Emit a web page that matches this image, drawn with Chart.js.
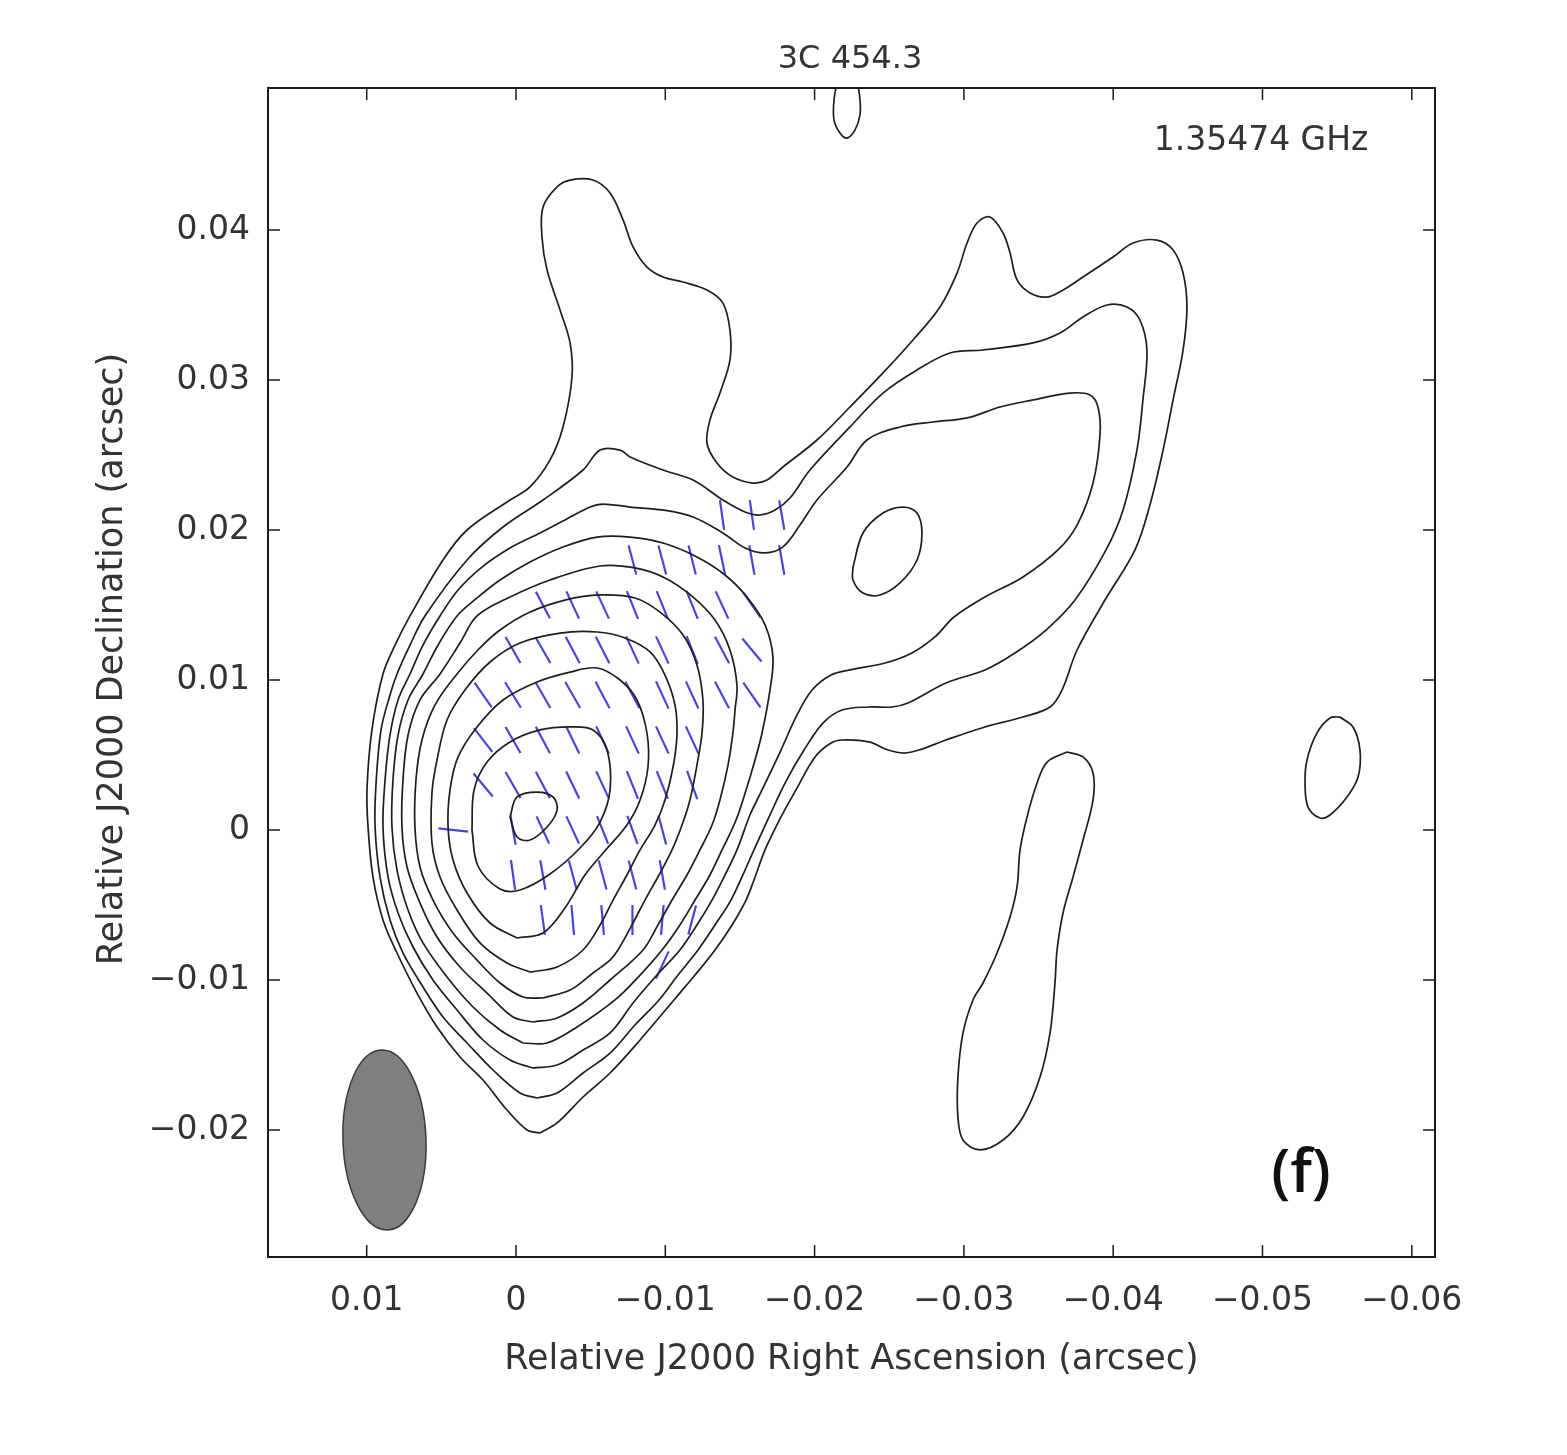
<!DOCTYPE html>
<html><head><meta charset="utf-8">
<script src="https://cdn.jsdelivr.net/npm/chart.js@4.4.1/dist/chart.umd.min.js"></script>
<style>html,body{margin:0;padding:0;background:#fff;}#wrap{position:absolute;left:0;top:0;width:1567px;height:1455px;}</style>
</head><body><div id="wrap"><canvas id="c" width="1567" height="1455"></canvas></div>
<script>
// ---------- DATA (offsets in milliarcsec: x = relative RA, y = relative Dec) ----------
const chartTitle = '3C 454.3';
const freqLabel = '1.35474 GHz';
const panelLabel = '(f)';
const xAxisTitle = 'Relative J2000 Right Ascension (arcsec)';
const yAxisTitle = 'Relative J2000 Declination (arcsec)';

const xTickValues = [0.01, 0, -0.01, -0.02, -0.03, -0.04, -0.05, -0.06];
const xTickLabels = ['0.01', '0', '\u22120.01', '\u22120.02', '\u22120.03', '\u22120.04', '\u22120.05', '\u22120.06'];
const yTickValues = [0.04, 0.03, 0.02, 0.01, 0, -0.01, -0.02];
const yTickLabels = ['0.04', '0.03', '0.02', '0.01', '0', '\u22120.01', '\u22120.02'];

// contour level 1 (lowest)
const contourL1Main = [[-1.61,-20.20],[-0.74,-20.00],[0.60,-18.67],[2.21,-16.67],[3.75,-15.13],[5.29,-13.13],[6.63,-10.87],[7.97,-8.20],[8.91,-6.00],[9.58,-3.13],[9.91,0.20],[9.98,2.73],[9.65,6.67],[8.91,10.40],[8.10,12.33],[7.10,14.27],[4.89,18.00],[3.28,20.00],[0.40,22.00],[-0.94,22.87],[-2.28,24.67],[-3.15,26.87],[-3.75,30.20],[-3.62,32.47],[-2.95,34.67],[-2.08,37.33],[-1.74,39.53],[-1.81,41.53],[-2.75,42.87],[-3.62,43.33],[-5.16,43.33],[-6.30,42.47],[-7.17,40.67],[-7.84,38.87],[-8.77,37.53],[-9.85,36.87],[-11.19,36.53],[-12.79,36.00],[-13.86,35.13],[-14.33,33.33],[-14.33,31.33],[-13.66,29.13],[-12.99,27.33],[-12.79,25.80],[-13.46,24.47],[-14.53,23.53],[-15.87,23.13],[-16.81,23.33],[-17.88,24.20],[-20.16,26.00],[-22.37,28.20],[-24.58,30.47],[-26.59,32.67],[-28.40,34.87],[-29.54,37.13],[-30.21,39.13],[-30.88,40.47],[-31.75,40.87],[-32.62,39.80],[-33.09,38.47],[-33.56,36.67],[-34.43,35.80],[-35.57,35.53],[-36.64,36.00],[-37.98,36.87],[-39.99,38.20],[-41.33,39.13],[-42.93,39.33],[-44.01,38.67],[-44.68,37.13],[-44.94,34.87],[-44.68,32.00],[-44.01,28.67],[-43.34,25.33],[-42.46,21.67],[-41.46,18.67],[-39.45,15.33],[-37.58,12.00],[-36.57,9.33],[-35.77,8.20],[-33.96,7.53],[-31.41,6.87],[-28.80,6.00],[-26.99,5.33],[-25.99,5.13],[-24.92,5.33],[-23.64,5.87],[-21.84,6.00],[-21.10,5.80],[-20.03,4.87],[-18.75,2.67],[-17.75,0.87],[-16.68,-1.33],[-15.94,-3.33],[-15.41,-4.67],[-14.47,-6.33],[-13.33,-8.00],[-11.99,-9.67],[-10.58,-11.33],[-8.31,-14.00],[-6.30,-16.20],[-4.49,-17.80],[-2.75,-19.53]];
const contourL1IslandLong = [[-36.91,5.20],[-37.98,4.87],[-38.65,3.80],[-38.65,2.00],[-37.98,-0.67],[-37.31,-3.13],[-36.64,-5.53],[-36.24,-8.00],[-36.10,-10.20],[-35.77,-13.53],[-35.10,-16.47],[-33.96,-19.13],[-32.62,-20.67],[-31.08,-21.33],[-29.94,-20.67],[-29.60,-19.13],[-29.60,-16.47],[-29.94,-13.53],[-30.61,-11.33],[-31.28,-10.20],[-32.22,-8.20],[-33.09,-5.80],[-33.56,-3.80],[-33.76,-1.33],[-34.23,0.87],[-34.90,3.13],[-35.57,4.53]];
const contourL1IslandWest = [[-55.19,7.53],[-56.06,6.87],[-56.53,5.33],[-56.40,3.53],[-55.66,2.20],[-54.52,1.00],[-53.85,0.80],[-53.05,1.53],[-52.85,3.13],[-52.98,4.67],[-53.65,6.47],[-54.52,7.47]];
const contourL1TopEdge = [[-21.57,50.20],[-21.30,48.67],[-21.30,47.33],[-21.70,46.47],[-22.17,46.13],[-22.71,46.67],[-23.04,47.67],[-23.04,48.67],[-22.84,50.20]];
const contourL2 = [[-1.41,-17.87],[-0.27,-17.53],[1.54,-16.00],[3.28,-14.20],[4.89,-12.47],[6.23,-10.47],[7.57,-8.20],[8.44,-6.00],[9.11,-3.13],[9.44,0.20],[9.38,3.00],[9.04,6.67],[8.44,9.00],[7.97,10.40],[7.10,12.33],[6.10,14.27],[3.28,18.00],[0.87,20.20],[-1.81,22.00],[-4.49,24.00],[-5.63,25.33],[-6.97,25.33],[-7.64,24.87],[-9.85,24.00],[-11.86,23.33],[-13.86,22.00],[-15.34,21.20],[-16.34,21.00],[-17.35,21.33],[-18.35,22.13],[-19.69,24.00],[-22.37,26.87],[-24.58,29.13],[-26.86,30.67],[-29.07,31.80],[-31.28,32.00],[-34.63,32.47],[-36.44,33.13],[-37.98,34.20],[-39.58,35.00],[-40.92,34.87],[-41.79,34.00],[-42.26,32.00],[-41.99,28.67],[-41.59,25.33],[-40.66,21.33],[-39.52,18.67],[-37.44,15.33],[-35.50,13.33],[-33.42,11.80],[-31.41,10.67],[-28.80,9.80],[-26.26,8.47],[-25.18,8.20],[-23.64,8.20],[-21.84,8.00],[-20.56,7.13],[-19.29,5.33],[-18.02,3.13],[-16.95,0.87],[-15.94,-1.33],[-15.34,-2.67],[-14.40,-4.67],[-13.33,-6.33],[-12.19,-8.00],[-10.85,-9.67],[-9.58,-11.33],[-7.97,-13.00],[-6.30,-14.87],[-4.49,-16.20],[-2.75,-17.53]];
const contourL3 = [[-1.14,-15.87],[0.40,-15.33],[2.21,-14.00],[3.95,-12.00],[5.56,-10.00],[6.90,-7.80],[7.90,-5.53],[8.57,-3.13],[8.91,0.20],[8.77,3.33],[8.44,6.33],[7.90,8.67],[7.10,10.40],[6.23,12.33],[5.09,14.27],[3.88,16.00],[2.28,17.53],[0.40,18.80],[-1.61,19.80],[-3.28,20.67],[-4.96,21.53],[-5.83,21.73],[-7.64,21.53],[-9.85,21.33],[-11.86,20.87],[-13.86,19.80],[-15.34,18.80],[-16.68,18.47],[-17.88,18.87],[-19.02,20.33],[-20.16,22.00],[-22.17,24.20],[-23.51,26.00],[-25.72,26.87],[-27.93,27.20],[-30.21,27.47],[-32.42,28.20],[-34.63,28.67],[-37.11,29.13],[-38.45,29.00],[-38.98,28.20],[-39.12,26.40],[-38.65,23.13],[-37.58,20.33],[-36.30,18.67],[-33.96,16.87],[-31.41,15.53],[-29.34,14.20],[-28.06,12.87],[-26.52,11.80],[-24.72,11.13],[-22.37,10.67],[-21.10,10.33],[-19.83,9.33],[-18.75,7.53],[-17.75,5.33],[-16.48,2.67],[-15.67,1.00],[-14.80,-1.33],[-14.00,-3.00],[-13.13,-4.67],[-12.12,-6.33],[-10.98,-8.00],[-9.44,-9.67],[-7.84,-11.53],[-6.30,-13.53],[-4.49,-14.67],[-2.75,-15.67]];
const contourL4 = [[-0.47,-14.20],[1.07,-13.33],[2.88,-11.80],[4.62,-9.80],[6.23,-7.53],[7.23,-5.33],[7.97,-2.67],[8.31,0.20],[8.24,3.33],[7.90,6.33],[7.23,8.67],[6.23,10.40],[5.22,12.33],[3.95,14.27],[2.61,15.47],[1.07,16.67],[-0.94,17.87],[-3.15,18.87],[-5.43,19.53],[-7.64,19.53],[-9.85,19.13],[-12.12,18.20],[-14.00,17.00],[-15.47,15.53],[-16.68,13.67],[-17.21,11.53],[-17.01,9.33],[-16.48,6.47],[-16.01,4.67],[-15.41,2.67],[-14.74,0.67],[-13.80,-1.33],[-12.99,-3.00],[-11.99,-4.67],[-10.98,-6.33],[-9.78,-8.00],[-8.31,-9.67],[-6.63,-11.33],[-4.09,-13.13],[-2.08,-14.20]];
const contourL4Island = [[-22.57,17.53],[-23.24,19.80],[-24.58,21.13],[-25.92,21.53],[-26.86,21.13],[-27.19,19.80],[-26.86,18.00],[-25.72,16.47],[-24.38,15.67],[-23.24,15.80],[-22.57,16.67]];
const contourL5 = [[-1.14,-12.80],[0.20,-12.47],[1.94,-10.87],[3.75,-9.13],[5.29,-7.13],[6.43,-4.87],[7.30,-2.47],[7.64,0.20],[7.57,3.33],[7.23,6.33],[6.43,8.67],[5.09,10.40],[3.75,12.47],[2.61,14.27],[0.40,15.53],[-2.28,16.67],[-5.63,17.60],[-7.97,17.47],[-9.98,16.80],[-11.86,15.53],[-13.33,14.00],[-14.33,12.00],[-14.80,9.67],[-14.67,8.00],[-14.53,6.47],[-14.20,4.33],[-13.66,2.00],[-13.13,0.33],[-12.32,-1.33],[-11.45,-3.00],[-10.45,-4.67],[-9.51,-6.33],[-8.51,-8.00],[-6.30,-10.00],[-4.49,-11.53],[-2.75,-12.53]];
const contourL6 = [[-1.81,-11.20],[-0.47,-11.13],[1.07,-10.20],[2.61,-8.67],[4.22,-6.87],[5.56,-4.67],[6.43,-2.47],[6.77,0.20],[6.70,3.33],[6.30,6.00],[5.43,8.33],[3.95,10.40],[2.55,12.00],[1.07,13.33],[-0.94,14.53],[-3.28,15.33],[-5.63,15.67],[-7.97,15.47],[-9.65,14.53],[-11.19,13.00],[-12.12,11.00],[-12.52,8.67],[-12.46,6.47],[-12.12,4.33],[-11.65,2.00],[-11.12,0.33],[-10.45,-1.33],[-9.58,-3.00],[-8.64,-4.67],[-7.77,-6.33],[-6.83,-8.00],[-6.30,-8.67],[-5.16,-9.53],[-3.62,-10.67]];
const contourL7 = [[-0.94,-9.47],[0.60,-8.87],[2.41,-7.53],[3.95,-5.33],[5.09,-3.13],[5.63,-0.87],[5.63,2.47],[5.29,4.67],[4.62,7.33],[3.42,9.33],[1.74,11.20],[-0.27,12.47],[-2.95,13.13],[-5.43,13.20],[-7.30,12.80],[-8.98,11.87],[-9.98,10.33],[-10.65,8.33],[-10.78,6.33],[-10.52,4.20],[-9.98,2.00],[-9.31,0.33],[-8.31,-1.33],[-7.43,-3.00],[-6.50,-4.67],[-5.63,-6.33],[-4.49,-8.00],[-2.75,-9.13]];
const contourL8 = [[-0.07,-7.20],[1.74,-6.20],[3.28,-4.20],[4.22,-2.00],[4.55,0.20],[4.42,2.67],[3.88,4.87],[2.61,6.87],[0.87,8.67],[-1.41,9.87],[-3.62,10.53],[-5.43,10.80],[-6.97,10.00],[-8.10,8.67],[-8.77,6.47],[-8.84,4.20],[-8.31,2.00],[-7.43,0.33],[-5.89,-1.47],[-4.62,-3.00],[-3.28,-5.20],[-1.81,-6.87]];
const contourL9 = [[2.95,0.00],[2.81,2.67],[1.94,4.53],[0.40,5.87],[-1.61,6.67],[-3.62,6.87],[-5.16,6.67],[-6.10,5.33],[-6.30,2.67],[-5.63,0.53],[-4.29,-1.20],[-2.28,-2.93],[-0.27,-4.00],[1.07,-3.93],[2.55,-2.40]];
const contourL10 = [[0.40,0.87],[-0.07,2.20],[-1.41,2.53],[-2.48,2.20],[-2.75,1.33],[-2.08,0.20],[-0.94,-0.67],[-0.07,-0.47]];

// polarization vectors: rows of declination, RA positions and EVPA (deg, N through E)
const polRowDec = [21, 18, 15, 12, 9, 6, 3, 0, -3, -6, -9];
const polRowRA = [
  [-13.8, -15.8, -17.8],
  [-7.8, -9.8, -11.8, -13.8, -15.8, -17.8],
  [-1.8, -3.8, -5.8, -7.8, -9.8, -11.8, -13.8, -15.8],
  [0.2, -1.8, -3.8, -5.8, -7.8, -9.8, -11.8, -13.8, -15.8],
  [2.2, 0.2, -1.8, -3.8, -5.8, -7.8, -9.8, -11.8, -13.8, -15.8],
  [2.2, 0.2, -1.8, -3.8, -5.8, -7.8, -9.8, -11.8],
  [2.2, 0.2, -1.8, -3.8, -5.8, -7.8, -9.8, -11.8],
  [4.2, 0.2, -1.8, -3.8, -5.8, -7.8, -9.8],
  [0.2, -1.8, -3.8, -5.8, -7.8, -9.8],
  [-1.8, -3.8, -5.8, -7.8, -9.8, -11.8],
  [-9.8]
];
const polEVPA = [
  [8, 8, 10],
  [15, 15, 14, 12, 10, 10],
  [28, 25, 25, 22, 22, 22, 25, 35],
  [30, 30, 28, 27, 25, 25, 22, 28, 40],
  [35, 32, 30, 30, 28, 28, 25, 25, 28, 35],
  [38, 30, 28, 26, 25, 25, 25, 25],
  [40, 30, 28, 26, 25, 22, 22, 20],
  [84, 10, 25, 25, 22, 20, 15],
  [8, 10, 15, 15, 15, 10],
  [8, 5, 5, 0, -5, -15],
  [-25]
];

// restoring beam
const beamCenterMas = [8.81, -20.67];
const beamMajorMas = 12.0;
const beamMinorMas = 5.56;
const beamPADeg = 2;

// ---------- STYLE ----------
const VEC_LEN_MAS = 2.0;
const TEXT_COLOR = '#333333';
const FONT = '"DejaVu Sans", "Liberation Sans", sans-serif';

const closedContours = [contourL1Main, contourL1IslandLong, contourL1IslandWest, contourL2, contourL3, contourL4, contourL4Island, contourL5, contourL6, contourL7, contourL8, contourL9, contourL10];
const openContours = [contourL1TopEdge];

function toPts(arr, close) {
  const pts = arr.map(p => ({x: p[0] / 1000, y: p[1] / 1000}));
  if (close) pts.push({x: arr[0][0] / 1000, y: arr[0][1] / 1000});
  return pts;
}

const datasets = [];
closedContours.forEach(c => datasets.push({data: toPts(c, true), showLine: true, borderColor: '#1e1e1e', borderWidth: 1.7, pointRadius: 0, tension: 0.35, fill: false}));
openContours.forEach(c => datasets.push({data: toPts(c, false), showLine: true, borderColor: '#1e1e1e', borderWidth: 1.7, pointRadius: 0, tension: 0.35, fill: false}));

const vecPts = [];
polRowDec.forEach((dec, r) => {
  polRowRA[r].forEach((ra, k) => {
    const th = polEVPA[r][k] * Math.PI / 180;
    const h = VEC_LEN_MAS / 2;
    vecPts.push({x: (ra + h * Math.sin(th)) / 1000, y: (dec + h * Math.cos(th)) / 1000});
    vecPts.push({x: (ra - h * Math.sin(th)) / 1000, y: (dec - h * Math.cos(th)) / 1000});
    vecPts.push({x: ra / 1000, y: null});
  });
});
datasets.push({data: vecPts, showLine: true, spanGaps: false, borderColor: 'rgba(50,50,215,0.9)', borderWidth: 2.2, pointRadius: 0, tension: 0});

const decoPlugin = {
  id: 'deco',
  beforeDraw(chart) {
    const ctx = chart.ctx;
    ctx.save(); ctx.fillStyle = '#fff'; ctx.fillRect(0, 0, chart.width, chart.height); ctx.restore();
  },
  beforeDatasetsDraw(chart) {
    const {ctx, scales: {x, y}} = chart;
    const cx = x.getPixelForValue(beamCenterMas[0] / 1000), cy = y.getPixelForValue(beamCenterMas[1] / 1000);
    const rx = Math.abs(x.getPixelForValue((beamCenterMas[0] + beamMinorMas / 2) / 1000) - cx);
    const ry = Math.abs(y.getPixelForValue((beamCenterMas[1] + beamMajorMas / 2) / 1000) - cy);
    ctx.save();
    ctx.beginPath();
    ctx.ellipse(cx, cy, rx, ry, -beamPADeg * Math.PI / 180, 0, 2 * Math.PI);
    ctx.fillStyle = '#7f7f7f'; ctx.fill();
    ctx.lineWidth = 1.5; ctx.strokeStyle = '#3a3a3a'; ctx.stroke();
    ctx.restore();
  },
  afterDraw(chart) {
    const {ctx, chartArea: a, scales: {x, y}} = chart;
    ctx.save();
    ctx.strokeStyle = '#1a1a1a'; ctx.lineWidth = 2;
    ctx.strokeRect(a.left, a.top, a.right - a.left, a.bottom - a.top);
    ctx.lineWidth = 1.5;
    const TL = 12;
    ctx.beginPath();
    xTickValues.forEach(v => {
      const px = x.getPixelForValue(v);
      ctx.moveTo(px, a.bottom); ctx.lineTo(px, a.bottom - TL);
      ctx.moveTo(px, a.top); ctx.lineTo(px, a.top + TL);
    });
    yTickValues.forEach(v => {
      const py = y.getPixelForValue(v);
      ctx.moveTo(a.left, py); ctx.lineTo(a.left + TL, py);
      ctx.moveTo(a.right, py); ctx.lineTo(a.right - TL, py);
    });
    ctx.stroke();
    ctx.fillStyle = TEXT_COLOR;
    ctx.textAlign = 'center'; ctx.textBaseline = 'middle';
    ctx.font = '32px ' + FONT;
    ctx.fillText(chartTitle, 850, 60);
    ctx.font = '33px ' + FONT;
    ctx.fillText(freqLabel, 1261, 141);
    ctx.font = '35px ' + FONT;
    ctx.fillText(xAxisTitle, (a.left + a.right) / 2, 1360);
    ctx.save();
    ctx.translate(113, 659);
    ctx.rotate(-Math.PI / 2);
    ctx.fillText(yAxisTitle, 0, 0);
    ctx.restore();
    ctx.fillStyle = '#111';
    ctx.font = '600 60px "Open Sans", "Noto Sans", sans-serif';
    ctx.fillText(panelLabel, 1301, 1175);
    ctx.restore();
  }
};

function labelFor(vals, labels, v) {
  const i = vals.findIndex(t => Math.abs(t - v) < 1e-9);
  return i >= 0 ? labels[i] : '';
}

new Chart(document.getElementById('c'), {
  type: 'scatter',
  data: {datasets},
  options: {
    responsive: false,
    animation: false,
    events: [],
    devicePixelRatio: 1,
    layout: {padding: {left: 0, right: 132, top: 88, bottom: 0}},
    plugins: {legend: {display: false}, tooltip: {enabled: false}, title: {display: false}},
    scales: {
      x: {
        type: 'linear', position: 'bottom', reverse: true,
        min: -0.061554, max: 0.016611,
        grid: {display: false, drawTicks: false},
        border: {display: false},
        afterBuildTicks: s => { s.ticks = xTickValues.slice().sort((a, b) => a - b).map(v => ({value: v})); },
        afterFit: s => { s.height = 198; },
        ticks: {autoSkip: false, maxRotation: 0, padding: 25, color: TEXT_COLOR, font: {family: FONT, size: 33},
          callback: v => labelFor(xTickValues, xTickLabels, v)}
      },
      y: {
        type: 'linear', position: 'left',
        min: -0.028467, max: 0.049467,
        grid: {display: false, drawTicks: false},
        border: {display: false},
        afterBuildTicks: s => { s.ticks = yTickValues.slice().sort((a, b) => a - b).map(v => ({value: v})); },
        afterFit: s => { s.width = 268; },
        ticks: {autoSkip: false, padding: 18, color: TEXT_COLOR, font: {family: FONT, size: 33},
          callback: v => labelFor(yTickValues, yTickLabels, v)}
      }
    }
  },
  plugins: [decoPlugin]
});
</script></body></html>
